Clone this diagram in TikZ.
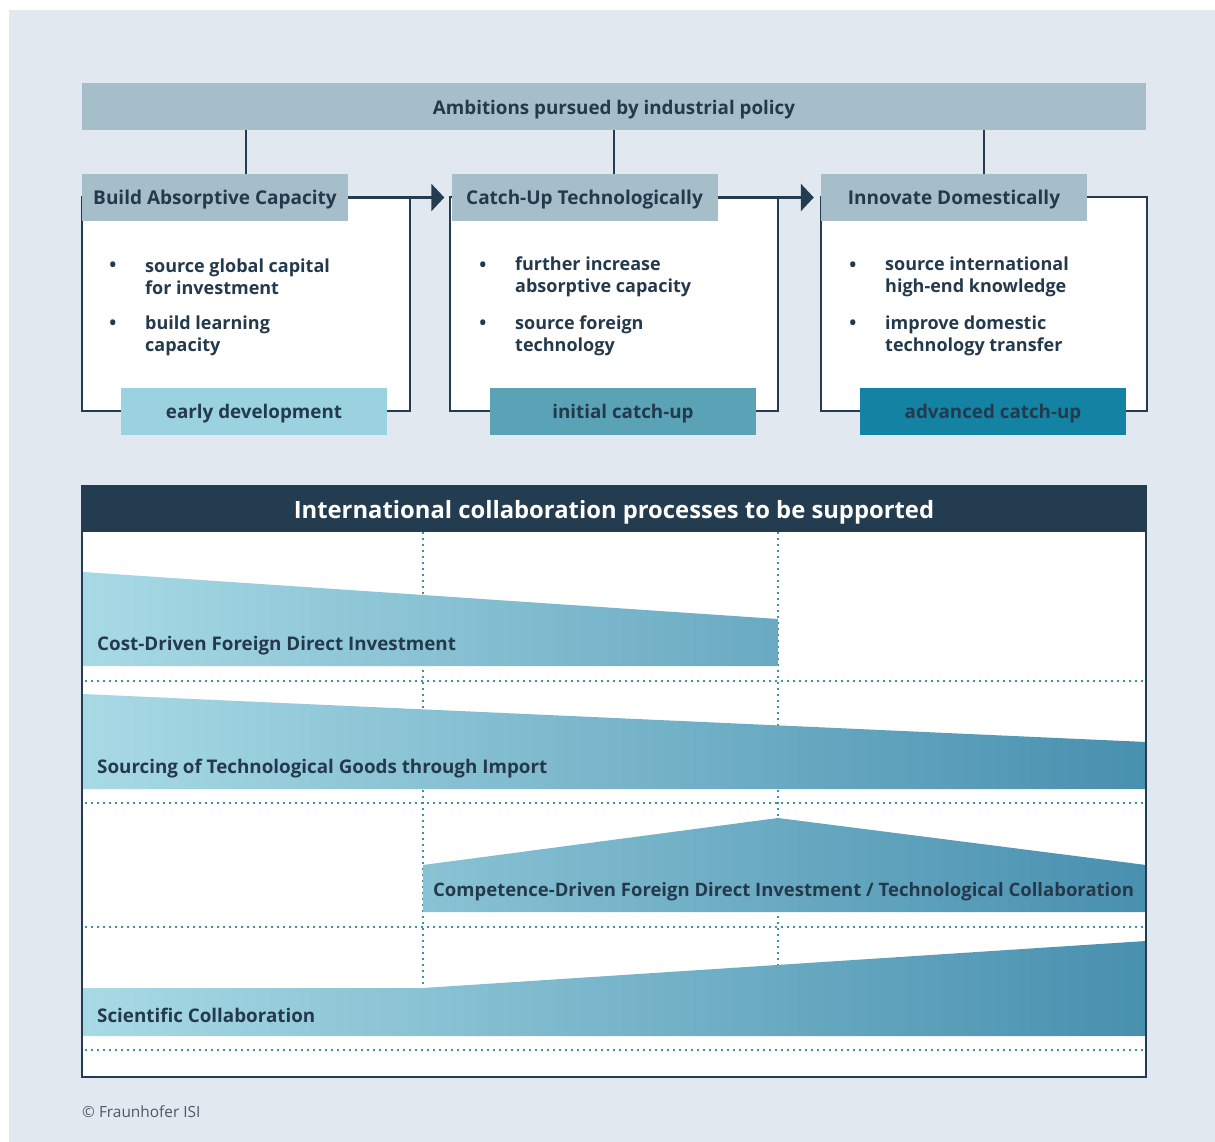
\documentclass[tikz,border=0pt]{standalone}
\usepackage{fontspec}
\setmainfont{Open Sans}
\usetikzlibrary{arrows.meta}
\definecolor{bgc}{HTML}{E1E8EF}
\definecolor{hdr}{HTML}{A6BDCA}
\definecolor{ink}{HTML}{243A4C}
\definecolor{navy}{HTML}{243C50}
\definecolor{lab1}{HTML}{9AD3DF}
\definecolor{lab2}{HTML}{5AA3B7}
\definecolor{lab3}{HTML}{1483A3}
\definecolor{dotc}{HTML}{3A93A3}
\definecolor{gradL}{HTML}{A8DAE5}
\definecolor{gradR}{HTML}{4890AF}
\definecolor{foot}{HTML}{4B5A66}
\newcommand{\lowtext}[2]{\raisebox{-#1}[\height][\depth]{#2}}
\begin{document}
\begin{tikzpicture}[x=1pt,y=-1pt,
  hdrbox/.style={fill=hdr, text=ink, inner sep=0pt, minimum width=266pt, minimum height=47pt, font=\fontsize{19}{22}\selectfont\bfseries},
  outline/.style={draw=navy, line width=2pt, fill=white, inner sep=0pt, minimum width=328pt, minimum height=214pt},
  labbox/.style={inner sep=0pt, minimum width=266pt, minimum height=47pt, text=ink, font=\fontsize{18.8}{22}\selectfont\bfseries},
  bultext/.style={anchor=west, align=left, text=ink, inner sep=0pt, font=\fontsize{18}{22}\selectfont\bfseries},
  bulmark/.style={text=ink, inner sep=0pt, font=\fontsize{24}{26}\selectfont},
  conn/.style={draw=navy, line width=2pt},
  flow/.style={draw=navy, line width=3pt, -{Triangle[length=13pt,width=27pt]}, shorten >=7pt},
  dotline/.style={draw=dotc, line width=1.6pt, dash pattern=on 1.6pt off 4.4pt},
  bandtext/.style={anchor=west, text=ink, inner sep=0pt, font=\fontsize{18.8}{22}\selectfont\bfseries}
]
\useasboundingbox (0,0) rectangle (1215,1142);
\fill[white] (0,0) rectangle (1215,1142);
\fill[bgc] (9,10) rectangle (1215,1142);

% top header
\node[fill=hdr, text=ink, inner sep=0pt, minimum width=1064pt, minimum height=47pt,
  font=\fontsize{18.8}{22}\selectfont\bfseries] (amb) at (614,106.5) {\lowtext{3pt}{Ambitions pursued by industrial policy}};

% boxes
\node[outline] (b1) at (246,304) {};
\node[outline] (b2) at (614,304) {};
\node[outline, minimum width=326pt] (b3) at (984,304) {};

\node[hdrbox] (h1) at (215,197.5) {\lowtext{2.5pt}{Build Absorptive Capacity}};
\node[hdrbox] (h2) at (584.5,197.5) {\lowtext{2.5pt}{Catch-Up Technologically}};
\node[hdrbox] (h3) at (954,197.5) {\lowtext{2.5pt}{Innovate Domestically}};

\draw[conn] (amb.south -| b1.north) -- (b1.north |- h1.north);
\draw[conn] (amb.south -| b2.north) -- (b2.north |- h2.north);
\draw[conn] (amb.south -| b3.north) -- (b3.north |- h3.north);

\draw[flow] (h1.east) -- (h2.west);
\draw[flow] (h2.east) -- (h3.west);

\node[labbox, fill=lab1] (l1) at (254,411.5) {\lowtext{2.5pt}{early development}};
\node[labbox, fill=lab2] (l2) at (623,411.5) {\lowtext{2.5pt}{initial catch-up}};
\node[labbox, fill=lab3] (l3) at (993,411.5) {\lowtext{2.5pt}{advanced catch-up}};

% bullets
\node[bulmark] (m11) at (113,268) {•};
\node[bultext] (t11) at (145,277) {source global capital\\for investment};
\node[bulmark] (m12) at (113,326) {•};
\node[bultext] (t12) at (145,336) {build learning\\capacity};
\node[bulmark] (m21) at (483,268) {•};
\node[bultext] (t21) at (515,277) {further increase\\absorptive capacity};
\node[bulmark] (m22) at (483,326) {•};
\node[bultext] (t22) at (515,336) {source foreign\\technology};
\node[bulmark] (m31) at (853,268) {•};
\node[bultext] (t31) at (885,277) {source international\\high-end knowledge};
\node[bulmark] (m32) at (853,326) {•};
\node[bultext] (t32) at (885,336) {improve domestic\\technology transfer};

% bottom panel
\fill[white] (82,486) rectangle (1146,1077);
\draw[dotline] (423,532) -- (423,1000);
\draw[dotline] (778,532) -- (778,980);
\foreach \yy in {681,803,927,1050} {
  \draw[dotline] (85,\yy) -- (1144,\yy);
}

\begin{scope}
\clip (83,572) -- (778,619) -- (778,666) -- (83,666) -- cycle;
\shade[left color=gradL, right color=gradR] (83,560) rectangle (1146,1040);
\end{scope}
\begin{scope}
\clip (83,694) -- (1146,742) -- (1146,789) -- (83,789) -- cycle;
\shade[left color=gradL, right color=gradR] (83,560) rectangle (1146,1040);
\end{scope}
\begin{scope}
\clip (423,865) -- (778,818) -- (1146,865) -- (1146,912) -- (423,912) -- cycle;
\shade[left color=gradL, right color=gradR] (83,560) rectangle (1146,1040);
\end{scope}
\begin{scope}
\clip (83,988) -- (423,988) -- (1146,941) -- (1146,1036) -- (83,1036) -- cycle;
\shade[left color=gradL, right color=gradR] (83,560) rectangle (1146,1040);
\end{scope}

\node[bandtext] (s1) at (97,646) {Cost-Driven Foreign Direct Investment};
\node[bandtext] (s2) at (97,769) {Sourcing of Technological Goods through Import};
\node[bandtext, font=\fontsize{18.5}{22}\selectfont\bfseries] (s3) at (433,892) {Competence-Driven Foreign Direct Investment / Technological Collaboration};
\node[bandtext] (s4) at (97,1015) {Scientific Collaboration};

\draw[navy, line width=2pt] (82,486) rectangle (1146,1077);
\node[fill=navy, text=white, inner sep=0pt, minimum width=1066pt, minimum height=47pt,
  font=\fontsize{23.8}{26}\selectfont\bfseries] (ich) at (614,508.5) {\lowtext{4pt}{International collaboration processes to be supported}};

\node[anchor=west, text=foot, inner sep=0pt, font=\fontsize{15.4}{18}\selectfont] (cr) at (82,1112) {© Fraunhofer ISI};
\end{tikzpicture}
\end{document}
